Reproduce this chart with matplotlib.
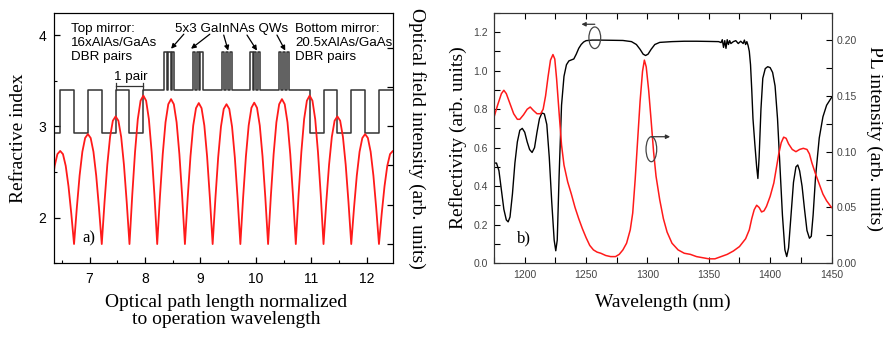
import matplotlib
matplotlib.use("Agg")
import matplotlib.pyplot as plt
from matplotlib.patches import Ellipse
from matplotlib.ticker import MultipleLocator, FixedLocator, NullFormatter, FormatStrFormatter

SANS = ["Liberation Sans", "DejaVu Sans"]
SERIF = ["Liberation Serif", "DejaVu Serif"]

# ---------------- panel a) data ----------------
n_low = 2.93
n_high = 3.40
n_qw = 3.82
left_dbr_edges = [6.47, 6.72, 6.97, 7.22, 7.47, 7.72, 7.97]
right_dbr_edges = [10.97, 11.22, 11.47, 11.72, 11.97, 12.22]
qw_centers = [8.44, 8.95, 9.48, 9.99, 10.51]
qw_offsets = [-0.09, -0.05, -0.02, 0.02, 0.05, 0.09]

field_x = [6.32, 6.37, 6.42, 6.47, 6.52, 6.57, 6.62, 6.67, 6.72,
           6.77, 6.82, 6.87, 6.92, 6.97, 7.02, 7.07, 7.12, 7.17, 7.22,
           7.27, 7.32, 7.37, 7.42, 7.47, 7.52, 7.57, 7.62, 7.67, 7.72,
           7.77, 7.82, 7.87, 7.92, 7.97, 8.02, 8.07, 8.12, 8.17, 8.22,
           8.27, 8.32, 8.37, 8.42, 8.47, 8.52, 8.57, 8.62, 8.67, 8.72,
           8.77, 8.82, 8.87, 8.92, 8.97, 9.02, 9.07, 9.12, 9.17, 9.22,
           9.27, 9.32, 9.37, 9.42, 9.47, 9.52, 9.57, 9.62, 9.67, 9.72,
           9.77, 9.82, 9.87, 9.92, 9.97, 10.02, 10.07, 10.12, 10.17, 10.22,
           10.27, 10.32, 10.37, 10.42, 10.47, 10.52, 10.57, 10.62, 10.67, 10.72,
           10.77, 10.82, 10.87, 10.92, 10.97, 11.02, 11.07, 11.12, 11.17, 11.22,
           11.27, 11.32, 11.37, 11.42, 11.47, 11.52, 11.57, 11.62, 11.67, 11.72,
           11.77, 11.82, 11.87, 11.92, 11.97, 12.02, 12.07, 12.12, 12.17, 12.22,
           12.27, 12.32, 12.37, 12.42, 12.47, 12.52]
field_y = [1.47, 1.99, 2.29, 2.37, 2.29, 1.99, 1.47, 0.78, 0.0,
           0.92, 1.74, 2.35, 2.70, 2.80, 2.70, 2.35, 1.74, 0.92, 0.0,
           1.07, 2.02, 2.73, 3.14, 3.25, 3.14, 2.73, 2.02, 1.07, 0.0,
           1.25, 2.34, 3.18, 3.65, 3.78, 3.65, 3.18, 2.34, 1.25, 0.0,
           1.22, 2.29, 3.10, 3.56, 3.69, 3.56, 3.10, 2.29, 1.22, 0.0,
           1.18, 2.23, 3.02, 3.46, 3.59, 3.46, 3.02, 2.23, 1.18, 0.0,
           1.17, 2.21, 2.99, 3.44, 3.56, 3.44, 2.99, 2.21, 1.17, 0.0,
           1.19, 2.23, 3.02, 3.47, 3.60, 3.47, 3.02, 2.23, 1.19, 0.0,
           1.22, 2.29, 3.10, 3.56, 3.69, 3.56, 3.10, 2.29, 1.22, 0.0,
           1.25, 2.34, 3.18, 3.65, 3.78, 3.65, 3.18, 2.34, 1.25, 0.0,
           1.07, 2.02, 2.73, 3.14, 3.25, 3.14, 2.73, 2.02, 1.07, 0.0,
           0.92, 1.74, 2.35, 2.70, 2.80, 2.70, 2.35, 1.74, 0.92, 0.0,
           0.78, 1.47, 1.99, 2.29, 2.37, 2.29]

# ---------------- panel b) data ----------------
wl_R = [1175, 1177, 1179, 1181, 1183, 1185, 1186.5, 1188, 1190, 1192, 1194, 1196,
        1198, 1200, 1202, 1204, 1206, 1208, 1210, 1212, 1214, 1216, 1218, 1220,
        1222, 1224, 1225.3, 1226.5, 1228, 1230, 1232, 1234, 1236, 1238, 1240,
        1242, 1244, 1246, 1248, 1250, 1255, 1260, 1270, 1280, 1287, 1291, 1294,
        1296.5, 1298.5, 1300.5, 1303, 1306, 1310, 1320, 1330, 1340, 1350, 1358,
        1360, 1361, 1362, 1363, 1364, 1365, 1366, 1367, 1368, 1370, 1372, 1374,
        1376, 1378, 1379, 1380, 1381, 1382, 1383, 1384, 1385, 1386, 1387.5, 1389,
        1390, 1391, 1392.5, 1394, 1396, 1398, 1400, 1402, 1404, 1406, 1408, 1410,
        1412, 1413.5, 1415, 1417, 1419, 1421, 1422.5, 1424, 1426, 1428, 1430,
        1432, 1433.5, 1435, 1437, 1440, 1443, 1446, 1450]
R = [0.52, 0.52, 0.48, 0.38, 0.28, 0.225, 0.215, 0.24, 0.36, 0.52, 0.63, 0.69,
     0.70, 0.68, 0.63, 0.59, 0.575, 0.60, 0.68, 0.75, 0.78, 0.775, 0.72, 0.55,
     0.32, 0.12, 0.065, 0.12, 0.45, 0.82, 0.97, 1.03, 1.05, 1.055, 1.06,
     1.085, 1.115, 1.135, 1.148, 1.155, 1.158, 1.158, 1.157, 1.156, 1.15, 1.135, 1.11,
     1.085, 1.078, 1.085, 1.11, 1.135, 1.146, 1.15, 1.152, 1.152, 1.151, 1.15,
     1.145, 1.16, 1.12, 1.155, 1.115, 1.16, 1.135, 1.155, 1.14, 1.15, 1.155, 1.14,
     1.152, 1.14, 1.158, 1.135, 1.15, 1.13, 1.10, 1.03, 0.90, 0.75, 0.62, 0.50,
     0.44, 0.55, 0.80, 0.96, 1.01, 1.02, 1.015, 0.99, 0.92, 0.75, 0.50, 0.25,
     0.07, 0.035, 0.08, 0.25, 0.42, 0.50, 0.51, 0.48, 0.40, 0.28, 0.17,
     0.13, 0.14, 0.25, 0.45, 0.65, 0.76, 0.82, 0.86]

wl_PL = [1175, 1178, 1181, 1183, 1185, 1188, 1191, 1194, 1196, 1199, 1202, 1204.5,
         1207, 1210, 1213, 1215, 1217, 1219, 1221, 1223, 1224.5, 1226, 1228, 1230,
         1232, 1235, 1238, 1241, 1244, 1247, 1250, 1253, 1256, 1259, 1262, 1266,
         1270, 1274, 1277, 1280, 1283, 1286, 1288, 1290, 1292, 1294, 1296, 1297.5,
         1299, 1301, 1303, 1305, 1307, 1310, 1313, 1316, 1320, 1325, 1330, 1335,
         1340, 1345, 1350, 1355, 1360, 1365, 1370, 1375, 1380, 1383, 1385, 1387,
         1389, 1391, 1393, 1395, 1397, 1400, 1403, 1405, 1407, 1409, 1411, 1413,
         1415, 1418, 1421, 1424, 1427, 1430, 1432, 1434, 1437, 1440, 1443, 1446, 1450]
PL = [0.131, 0.142, 0.152, 0.155, 0.152, 0.143, 0.134, 0.129, 0.129, 0.133, 0.138, 0.140,
      0.137, 0.134, 0.134, 0.138, 0.150, 0.167, 0.182, 0.187, 0.183, 0.165, 0.135, 0.106,
      0.088, 0.073, 0.062, 0.050, 0.040, 0.031, 0.023, 0.016, 0.012, 0.010, 0.009, 0.007,
      0.006, 0.006, 0.008, 0.012, 0.018, 0.030, 0.045, 0.075, 0.110, 0.145, 0.172, 0.182,
      0.176, 0.155, 0.128, 0.100, 0.078, 0.057, 0.040, 0.028, 0.018, 0.012, 0.009, 0.008,
      0.006, 0.005, 0.004, 0.004, 0.006, 0.008, 0.011, 0.015, 0.022, 0.030, 0.040, 0.048,
      0.052, 0.050, 0.046, 0.047, 0.051, 0.060, 0.072, 0.085, 0.098, 0.108, 0.113, 0.112,
      0.107, 0.102, 0.100, 0.102, 0.103, 0.102, 0.098, 0.090, 0.080, 0.071, 0.062, 0.056, 0.050]

# ---------------- build refractive-index step profile ----------------
prof_x = [6.30]
prof_n = [n_low]
state = n_low
for e in left_dbr_edges:
    state = n_high if state == n_low else n_low
    prof_x.append(e)
    prof_n.append(state)
for c in qw_centers:
    for i, o in enumerate(qw_offsets):
        prof_x.append(c + o)
        prof_n.append(n_qw if i % 2 == 0 else n_high)
state = n_high
for e in right_dbr_edges:
    state = n_high if state == n_low else n_low
    prof_x.append(e)
    prof_n.append(state)
prof_x.append(12.60)
prof_n.append(state)

# ---------------- figure ----------------
fig = plt.figure(figsize=(8.83, 3.37), dpi=100)
ax1 = fig.add_axes([0.0615, 0.2187, 0.3840, 0.7436])
ax1f = ax1.twinx()
ax2 = fig.add_axes([0.5595, 0.2187, 0.3822, 0.7436])
ax2p = ax2.twinx()

red = "#ff1a1a"

# panel a
ax1.plot(prof_x, prof_n, drawstyle="steps-post", color="#333333", lw=1.1, zorder=3)
ax1f.plot(field_x, field_y, color=red, lw=1.3)
ax1.set_xlim(6.364, 12.48)
ax1.set_ylim(1.5, 4.245)
ax1f.set_ylim(-0.49, 5.89)
ax1.xaxis.set_major_locator(MultipleLocator(1))
ax1.xaxis.set_minor_locator(MultipleLocator(0.5))
ax1.yaxis.set_major_locator(MultipleLocator(1))
ax1.yaxis.set_minor_locator(MultipleLocator(0.5))
ax1f.yaxis.set_major_locator(FixedLocator([0, 1, 2, 3, 4, 5]))
ax1f.yaxis.set_major_formatter(NullFormatter())
ax1.tick_params(which="both", direction="in", labelsize=10, pad=6)
ax1.tick_params(which="major", length=4, width=0.9)
ax1.tick_params(which="minor", length=2.5, width=0.8)
ax1f.tick_params(which="both", direction="in", length=4, width=0.9)
for lab in ax1.get_xticklabels() + ax1.get_yticklabels():
    lab.set_fontfamily(SANS)

ax1.set_xlabel("Optical path length normalized\nto operation wavelength",
               fontsize=14, family=SERIF, linespacing=1.05, va="center")
ax1.xaxis.set_label_coords(0.507, -0.19)
ax1.set_ylabel("Refractive index", fontsize=14, family=SERIF,
               va="center", ha="center", rotation_mode="anchor")
ax1.yaxis.set_label_coords(-0.106, 0.5)
ax1f.set_ylabel("Optical field intensity (arb. units)", fontsize=14, family=SERIF,
                rotation=270, va="center", ha="center", rotation_mode="anchor")
ax1f.yaxis.set_label_coords(1.07, 0.5)

txtkw = dict(fontsize=9.6, family=SANS, va="top", ha="left", linespacing=1.2)
ax1.text(6.665, 4.13, "Top mirror:\n16xAlAs/GaAs\nDBR pairs", **txtkw)
ax1.text(10.71, 4.13, "Bottom mirror:\n20.5xAlAs/GaAs\nDBR pairs", **txtkw)
ax1.text(9.57, 4.13, "5x3 GaInNAs QWs", fontsize=9.6, family=SANS, va="top", ha="center")
arrow_tails = [(8.70, 4.01), (9.17, 4.01), (9.42, 4.0), (9.84, 4.0), (10.38, 4.0)]
arrow_heads = [(8.47, 3.85), (8.83, 3.85), (9.50, 3.83), (10.02, 3.83), (10.53, 3.83)]
for t, h in zip(arrow_tails, arrow_heads):
    ax1.annotate("", xy=h, xytext=t,
                 arrowprops=dict(arrowstyle="-|>", color="black", lw=0.9,
                                 mutation_scale=7, shrinkA=0, shrinkB=0))
# 1 pair bracket
ax1.plot([7.47, 7.97], [3.44, 3.44], color="#333333", lw=0.9)
ax1.plot([7.47, 7.47], [3.40, 3.47], color="#333333", lw=0.9)
ax1.plot([7.97, 7.97], [3.40, 3.47], color="#333333", lw=0.9)
ax1.text(7.74, 3.47, "1 pair", fontsize=9.6, family=SANS, ha="center", va="bottom")
ax1.text(6.98, 1.773, "a)", fontsize=12, family=SERIF, ha="center", va="center")

# panel b
ax2.plot(wl_R, R, color="black", lw=1.0, zorder=3)
ax2p.plot(wl_PL, PL, color=red, lw=1.1)
ax2.set_xlim(1175, 1450)
ax2.set_ylim(0, 1.3)
ax2p.set_ylim(0, 0.2245)
ax2.xaxis.set_major_locator(MultipleLocator(50))
ax2.xaxis.set_minor_locator(MultipleLocator(25))
ax2.yaxis.set_major_locator(MultipleLocator(0.2))
ax2.yaxis.set_minor_locator(MultipleLocator(0.1))
ax2p.yaxis.set_major_locator(MultipleLocator(0.05))
ax2p.yaxis.set_minor_locator(MultipleLocator(0.025))
ax2.yaxis.set_major_formatter(FormatStrFormatter("%.1f"))
ax2p.yaxis.set_major_formatter(FormatStrFormatter("%.2f"))
ax2.tick_params(which="both", direction="in", labelsize=7.5, labelcolor="#444444",
                top=True, pad=4.5)
ax2.tick_params(which="major", length=4, width=0.8)
ax2.tick_params(which="minor", length=4, width=0.8)
ax2p.tick_params(which="both", direction="in", labelsize=7.5, labelcolor="#444444",
                 length=4, width=0.8, pad=3.5)
for lab in ax2.get_xticklabels() + ax2.get_yticklabels() + ax2p.get_yticklabels():
    lab.set_fontfamily(SANS)
for a in (ax2, ax2p):
    for s in a.spines.values():
        s.set_color("#333333")

ax2.set_xlabel("Wavelength (nm)", fontsize=14, family=SERIF, va="center")
ax2.xaxis.set_label_coords(0.50, -0.155)
ax2.set_ylabel("Reflectivity (arb. units)", fontsize=14, family=SERIF,
               va="center", ha="center", rotation_mode="anchor")
ax2.yaxis.set_label_coords(-0.107, 0.5)
ax2p.set_ylabel("PL intensity (arb. units)", fontsize=14, family=SERIF,
                rotation=270, va="center", ha="center", rotation_mode="anchor")
ax2p.yaxis.set_label_coords(1.129, 0.5)

ax2.add_patch(Ellipse((1257.1, 1.17), width=9.6, height=0.112, fill=False,
                      edgecolor="#444444", lw=0.9, zorder=4))
ax2.annotate("", xy=(1246.2, 1.24), xytext=(1257.1, 1.24),
             arrowprops=dict(arrowstyle="-|>", color="#333333", lw=0.9,
                             mutation_scale=6, shrinkA=0, shrinkB=0))
ax2p.add_patch(Ellipse((1303.2, 0.1022), width=8.7, height=0.0224, fill=False,
                       edgecolor="#444444", lw=0.9, zorder=4))
ax2p.annotate("", xy=(1318.5, 0.1134), xytext=(1303.2, 0.1134),
              arrowprops=dict(arrowstyle="-|>", color="#333333", lw=0.9,
                              mutation_scale=6, shrinkA=0, shrinkB=0))
ax2.text(1199, 0.131, "b)", fontsize=12, family=SERIF, ha="center", va="center")

fig.savefig("out.png", dpi=100)
